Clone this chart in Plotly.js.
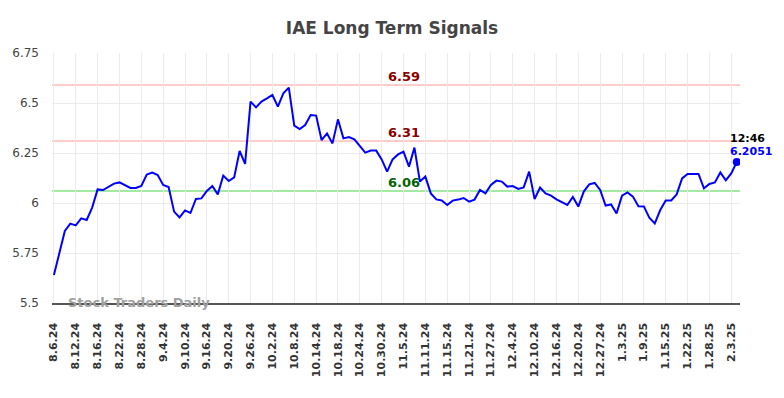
<!DOCTYPE html>
<html>
<head>
<meta charset="utf-8">
<script src="https://cdn.plot.ly/plotly-3.0.1.min.js"></script>
<style>html,body{margin:0;padding:0;background:#fff;}#chart{width:784px;height:398px;}</style>
</head>
<body>
<div id="chart"></div>
<script>
const dates = [
"8.6.24","8.7.24","8.8.24","8.9.24","8.12.24","8.13.24","8.14.24","8.15.24","8.16.24","8.19.24",
"8.20.24","8.21.24","8.22.24","8.23.24","8.26.24","8.27.24","8.28.24","8.29.24","8.30.24","9.3.24",
"9.4.24","9.5.24","9.6.24","9.9.24","9.10.24","9.11.24","9.12.24","9.13.24","9.16.24","9.17.24",
"9.18.24","9.19.24","9.20.24","9.23.24","9.24.24","9.25.24","9.26.24","9.27.24","9.30.24","10.1.24",
"10.2.24","10.3.24","10.4.24","10.7.24","10.8.24","10.9.24","10.10.24","10.11.24","10.14.24","10.15.24",
"10.16.24","10.17.24","10.18.24","10.21.24","10.22.24","10.23.24","10.24.24","10.25.24","10.28.24","10.29.24",
"10.30.24","10.31.24","11.1.24","11.4.24","11.5.24","11.6.24","11.7.24","11.8.24","11.11.24","11.12.24",
"11.13.24","11.14.24","11.15.24","11.18.24","11.19.24","11.20.24","11.21.24","11.22.24","11.25.24","11.26.24",
"11.27.24","11.29.24","12.2.24","12.3.24","12.4.24","12.5.24","12.6.24","12.9.24","12.10.24","12.11.24",
"12.12.24","12.13.24","12.16.24","12.17.24","12.18.24","12.19.24","12.20.24","12.23.24","12.24.24","12.26.24",
"12.27.24","12.30.24","12.31.24","1.2.25","1.3.25","1.6.25","1.7.25","1.8.25","1.9.25","1.10.25",
"1.13.25","1.14.25","1.15.25","1.16.25","1.17.25","1.21.25","1.22.25","1.23.25","1.24.25","1.27.25",
"1.28.25","1.29.25","1.30.25","1.31.25","2.3.25","2.4.25"
];
const prices = [
5.64,5.75,5.86,5.897,5.888,5.923,5.915,5.977,6.068,6.065,
6.082,6.097,6.103,6.09,6.075,6.075,6.085,6.142,6.152,6.14,
6.09,6.08,5.957,5.928,5.963,5.95,6.02,6.023,6.06,6.085,
6.043,6.137,6.11,6.128,6.26,6.196,6.507,6.478,6.507,6.523,
6.54,6.482,6.548,6.577,6.387,6.37,6.39,6.44,6.437,6.315,
6.348,6.298,6.418,6.323,6.33,6.318,6.285,6.252,6.262,6.262,
6.218,6.157,6.218,6.243,6.257,6.182,6.277,6.107,6.132,6.048,
6.018,6.013,5.99,6.012,6.017,6.025,6.007,6.017,6.065,6.048,
6.09,6.112,6.107,6.082,6.085,6.07,6.078,6.157,6.02,6.077,
6.048,6.037,6.018,6.002,5.99,6.03,5.982,6.057,6.093,6.1,
6.065,5.987,5.993,5.948,6.037,6.053,6.032,5.984,5.983,5.927,
5.898,5.965,6.013,6.013,6.043,6.123,6.145,6.145,6.145,6.073,
6.095,6.103,6.153,6.113,6.148,6.2051
];
const tickLabels = [
"8.6.24","8.12.24","8.16.24","8.22.24","8.28.24","9.4.24","9.10.24","9.16.24","9.20.24","9.26.24",
"10.2.24","10.8.24","10.14.24","10.18.24","10.24.24","10.30.24","11.5.24","11.11.24","11.15.24","11.21.24",
"11.27.24","12.4.24","12.10.24","12.16.24","12.20.24","12.27.24","1.3.25","1.9.25","1.15.25","1.22.25",
"1.28.25","2.3.25"
];
const upperLevels = [6.59, 6.31];
const lowerLevels = [6.06];
const lastTime = "12:46";
const labelDate = "11.5.24";

const lastIdx = prices.length - 1;
const lastDate = dates[lastIdx];
const lastVal = prices[lastIdx];

const shapes = [];
const annotations = [];
upperLevels.forEach(v => {
  shapes.push({type:'line', xref:'paper', x0:0, x1:1, yref:'y', y0:v, y1:v,
    line:{color:'rgba(255,170,170,0.6)', width:2}, layer:'below'});
  annotations.push({x:labelDate, y:v, xref:'x', yref:'y', text:'<b>'+v.toFixed(2)+'</b>',
    showarrow:false, yanchor:'bottom', yshift:-1, font:{family:'DejaVu Sans', size:13, color:'#8b0000'}});
});
lowerLevels.forEach(v => {
  shapes.push({type:'line', xref:'paper', x0:0, x1:1, yref:'y', y0:v, y1:v,
    line:{color:'rgba(100,220,100,0.6)', width:2}, layer:'below'});
  annotations.push({x:labelDate, y:v, xref:'x', yref:'y', text:'<b>'+v.toFixed(2)+'</b>',
    showarrow:false, yanchor:'bottom', yshift:-1, font:{family:'DejaVu Sans', size:13, color:'#006400'}});
});
annotations.push({x:lastDate, y:lastVal, xref:'x', yref:'y', text:'<b>'+lastTime+'</b>',
  showarrow:false, xanchor:'left', xshift:-9, yanchor:'middle', yshift:23, font:{family:'DejaVu Sans', size:11, color:'#000'}});
annotations.push({x:lastDate, y:lastVal, xref:'x', yref:'y', text:'<b>'+lastVal.toFixed(4)+'</b>',
  showarrow:false, xanchor:'left', xshift:-9, yanchor:'middle', yshift:10, font:{family:'DejaVu Sans', size:11, color:'#0000ff'}});
annotations.push({x:0.02, y:0, xref:'paper', yref:'paper', text:'<b>Stock Traders Daily</b>',
  showarrow:false, xanchor:'left', yanchor:'middle', yshift:1, font:{family:'DejaVu Sans', size:13, color:'#a0a0a0'}});

const trace = {x:dates, y:prices, type:'scatter', mode:'lines',
  line:{color:'#0000ff', width:2}, hoverinfo:'skip'};
const lastPt = {x:[lastDate], y:[lastVal], type:'scatter', mode:'markers',
  marker:{color:'#0000ff', size:8}, hoverinfo:'skip'};

const layout = {
  width:784, height:398,
  margin:{l:52, r:44, t:53, b:95},
  paper_bgcolor:'#fff', plot_bgcolor:'#fff',
  showlegend:false,
  title:{text:'<b>IAE Long Term Signals</b>', x:0.5, xanchor:'center', y:0.93, yanchor:'middle',
    font:{family:'DejaVu Sans', size:17, color:'#444'}},
  xaxis:{type:'category', range:[-0.35, 125.6], tickmode:'array', tickvals:tickLabels, ticktext:tickLabels,
    tickangle:-90, tickfont:{family:'DejaVu Sans', size:11, color:'#333', weight:'bold'},
    showgrid:true, gridcolor:'#ebebeb', gridwidth:1,
    showline:true, linecolor:'#555', linewidth:1.5, zeroline:false, ticks:'', ticklabelstandoff:14},
  yaxis:{range:[5.5, 6.75], tickvals:[5.5,5.75,6,6.25,6.5,6.75], ticktext:['5.5','5.75','6','6.25','6.5','6.75'],
    tickfont:{family:'DejaVu Sans', size:12, color:'#444'},
    showgrid:true, gridcolor:'#ebebeb', gridwidth:1, zeroline:false, showline:false, ticks:'', ticklabelstandoff:12},
  shapes:shapes, annotations:annotations
};
Plotly.newPlot('chart', [trace, lastPt], layout, {staticPlot:true, displayModeBar:false});
</script>
</body>
</html>
